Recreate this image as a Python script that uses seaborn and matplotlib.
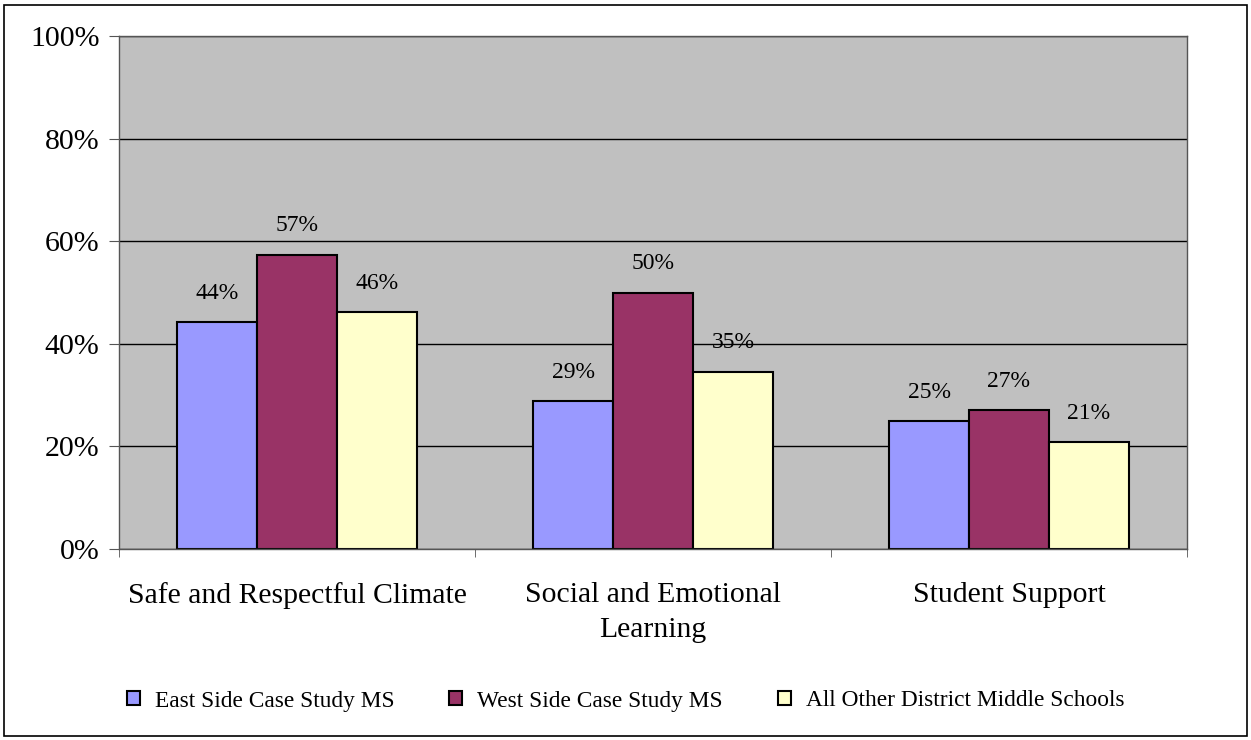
import matplotlib
matplotlib.use("Agg")
import matplotlib.pyplot as plt
import seaborn as sns
import pandas as pd
from matplotlib.patches import Rectangle

# data
categories = ["Safe and Respectful Climate", "Social and Emotional\nLearning", "Student Support"]
east_side = [44.2, 28.8, 25.0]
west_side = [57.4, 50.0, 27.1]
district = [46.2, 34.6, 20.9]
series_names = ["East Side Case Study MS", "West Side Case Study MS", "All Other District Middle Schools"]
colors = ["#9999FF", "#993366", "#FFFFCC"]

rows = []
for name, vals in zip(series_names, [east_side, west_side, district]):
    for cat, v in zip(categories, vals):
        rows.append({"Category": cat, "School": name, "Pct": v})
df = pd.DataFrame(rows)

sns.set_style("white")
plt.rcParams["font.family"] = ["Liberation Serif", "DejaVu Serif"]
plt.rcParams["text.color"] = "black"

fig = plt.figure(figsize=(12.51, 7.40), dpi=100)
ax = fig.add_axes([119/1251, 1-549/740, (1187-119)/1251, (549-36)/740])

sns.barplot(data=df, x="Category", y="Pct", hue="School", order=categories,
            hue_order=series_names, palette=colors, width=0.674, gap=0,
            edgecolor="black", linewidth=1.5, saturation=1, ax=ax, legend=True)

ax.set_facecolor("#C0C0C0")
ax.set_ylim(0, 100)
ax.set_xlim(-0.5, 2.5)
ax.set_yticks(range(0, 101, 20))
ax.set_yticklabels([f"{t}%" for t in range(0, 101, 20)], fontsize=21.5)
ax.yaxis.grid(True, color="black", linewidth=1)
ax.set_axisbelow(True)
ax.tick_params(axis="y", direction="out", length=7, color="#555555", labelcolor="black", left=True, pad=7)
ax.set_xticks([0, 1, 2])
ax.set_xticklabels(categories, fontsize=21.4, linespacing=1.45)
ax.tick_params(axis="x", which="major", length=0, pad=24, labelcolor="black")
ax.set_xticks([-0.5, 0.5, 1.5, 2.5], minor=True)
ax.tick_params(axis="x", which="minor", direction="out", length=6, color="#555555", bottom=True)
ax.set_xlabel("")
ax.set_ylabel("")
for s in ax.spines.values():
    s.set_color("#555555")
    s.set_linewidth(1)

for cont in ax.containers:
    ax.bar_label(cont, labels=[f"{v:.0f}%" for v in cont.datavalues], padding=13,
                 fontsize=17, color="black")

handles, labels = ax.get_legend_handles_labels()
ax.legend(handles, labels, loc="center", bbox_to_anchor=(0.5, 1-(701/740)),
          bbox_transform=fig.transFigure, ncol=3, frameon=False, fontsize=16.8,
          handlelength=0.55, handleheight=0.55, handletextpad=0.65, columnspacing=2.35)

fig.patches.append(Rectangle((4/1251, 4/740), 1243/1251, 731/740, transform=fig.transFigure,
                             fill=False, edgecolor="black", linewidth=1.2))

fig.savefig("out.png", dpi=100)
